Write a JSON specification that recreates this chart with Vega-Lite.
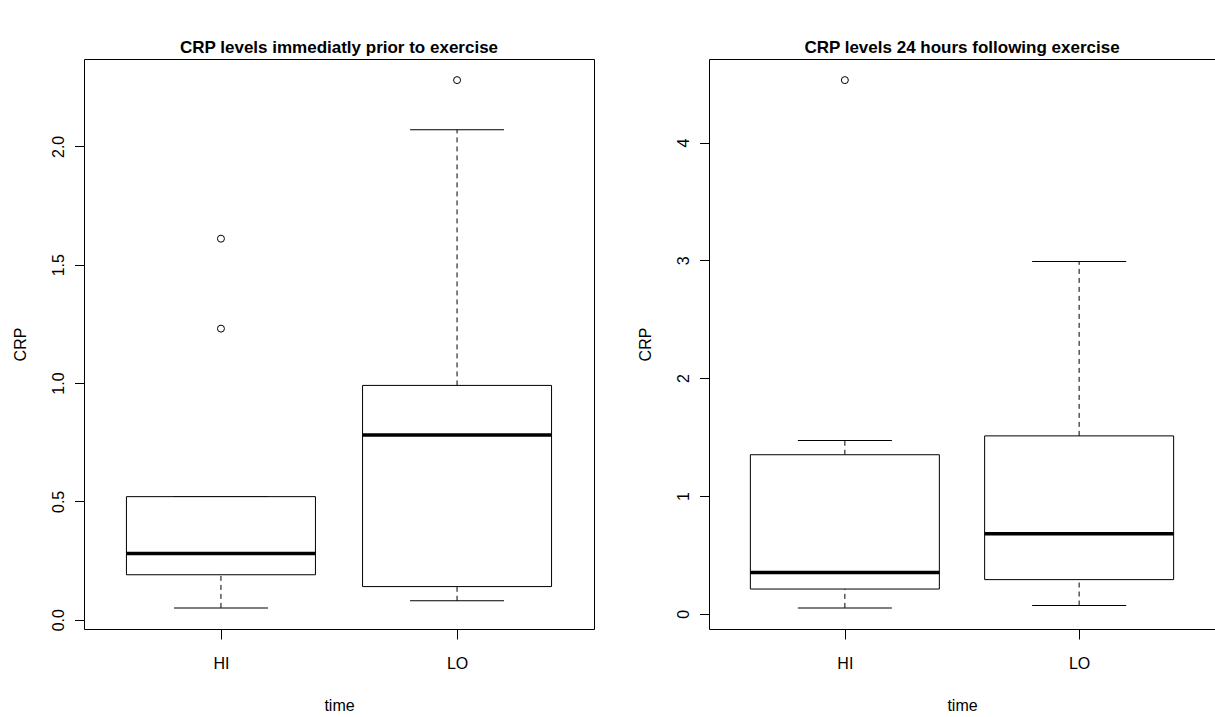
{
  "$schema": "https://vega.github.io/schema/vega-lite/v6.json",
  "background": "white",
  "padding": {"left": 11, "top": 38, "right": 0, "bottom": 0},
  "bounds": "flush",
  "spacing": 115,
  "datasets": {
    "pre_box": [
      {"time": "HI", "lower": 0.05, "q1": 0.19, "median": 0.28, "q3": 0.52, "upper": 0.52},
      {"time": "LO", "lower": 0.08, "q1": 0.14, "median": 0.78, "q3": 0.99, "upper": 2.07}
    ],
    "pre_out": [
      {"time": "HI", "CRP": 1.23},
      {"time": "HI", "CRP": 1.61},
      {"time": "LO", "CRP": 2.28}
    ],
    "post_box": [
      {"time": "HI", "lower": 0.05, "q1": 0.21, "median": 0.35, "q3": 1.35, "upper": 1.47},
      {"time": "LO", "lower": 0.07, "q1": 0.29, "median": 0.68, "q3": 1.51, "upper": 2.99}
    ],
    "post_out": [
      {"time": "HI", "CRP": 4.53}
    ]
  },
  "config": {
    "font": "Liberation Sans",
    "view": {"stroke": "black", "strokeWidth": 1},
    "axis": {
      "domain": false,
      "grid": false,
      "tickColor": "black",
      "labelColor": "black",
      "titleColor": "black",
      "labelFontSize": 16,
      "titleFontSize": 16,
      "titleFontWeight": "normal",
      "labelFont": "Liberation Sans",
      "titleFont": "Liberation Sans"
    },
    "axisX": {
      "tickSize": 10,
      "labelPadding": 29,
      "labelBaseline": "alphabetic",
      "labelAngle": 0,
      "titleY": 81,
      "titleBaseline": "alphabetic"
    },
    "axisY": {
      "tickSize": 9.5,
      "labelPadding": 11.5,
      "labelAngle": -90,
      "labelAlign": "center",
      "labelBaseline": "alphabetic",
      "titleAngle": -90,
      "titleX": -59,
      "titleY": 285,
      "titleAlign": "center",
      "titleBaseline": "alphabetic"
    },
    "title": {
      "fontSize": 17,
      "fontWeight": "bold",
      "font": "Liberation Sans",
      "color": "black",
      "anchor": "middle",
      "frame": "group",
      "baseline": "alphabetic",
      "offset": 2
    }
  },
  "hconcat": [
    {
      "title": "CRP levels immediatly prior to exercise",
      "width": 510,
      "height": 570,
      "encoding": {
        "x": {"field": "time", "type": "nominal", "title": "time", "scale": {"type": "point", "padding": 0.58}}
      },
      "layer": [
        {
          "data": {"name": "pre_box"},
          "mark": {"type": "rule", "color": "black", "strokeWidth": 1, "strokeDash": [5, 4]},
          "encoding": {
            "y": {"field": "lower", "type": "quantitative", "title": "CRP", "scale": {"domain": [-0.0392, 2.3692], "nice": false, "zero": false}, "axis": {"values": [0, 0.5, 1, 1.5, 2], "format": ".1f"}},
            "y2": {"field": "q1"}
          }
        },
        {
          "data": {"name": "pre_box"},
          "mark": {"type": "rule", "color": "black", "strokeWidth": 1, "strokeDash": [5, 4]},
          "encoding": {
            "y": {"field": "q3", "type": "quantitative"},
            "y2": {"field": "upper"}
          }
        },
        {
          "data": {"name": "pre_box"},
          "mark": {"type": "tick", "color": "black", "size": 94, "thickness": 1, "opacity": 1},
          "encoding": {"y": {"field": "lower", "type": "quantitative"}}
        },
        {
          "data": {"name": "pre_box"},
          "mark": {"type": "tick", "color": "black", "size": 94, "thickness": 1, "opacity": 1},
          "encoding": {"y": {"field": "upper", "type": "quantitative"}}
        },
        {
          "data": {"name": "pre_box"},
          "mark": {"type": "bar", "width": 189, "fill": "white", "stroke": "black", "strokeWidth": 1},
          "encoding": {
            "y": {"field": "q1", "type": "quantitative"},
            "y2": {"field": "q3"}
          }
        },
        {
          "data": {"name": "pre_box"},
          "mark": {"type": "tick", "color": "black", "size": 189, "thickness": 3.5, "opacity": 1},
          "encoding": {"y": {"field": "median", "type": "quantitative"}}
        },
        {
          "data": {"name": "pre_out"},
          "mark": {"type": "point", "shape": "circle", "filled": false, "stroke": "black", "strokeWidth": 1, "size": 49, "opacity": 1},
          "encoding": {"y": {"field": "CRP", "type": "quantitative"}}
        }
      ]
    },
    {
      "title": "CRP levels 24 hours following exercise",
      "width": 506,
      "height": 570,
      "encoding": {
        "x": {"field": "time", "type": "nominal", "title": "time", "scale": {"type": "point", "padding": 0.58}}
      },
      "layer": [
        {
          "data": {"name": "post_box"},
          "mark": {"type": "rule", "color": "black", "strokeWidth": 1, "strokeDash": [5, 4]},
          "encoding": {
            "y": {"field": "lower", "type": "quantitative", "title": "CRP", "scale": {"domain": [-0.1292, 4.7092], "nice": false, "zero": false}, "axis": {"values": [0, 1, 2, 3, 4], "format": "d"}},
            "y2": {"field": "q1"}
          }
        },
        {
          "data": {"name": "post_box"},
          "mark": {"type": "rule", "color": "black", "strokeWidth": 1, "strokeDash": [5, 4]},
          "encoding": {
            "y": {"field": "q3", "type": "quantitative"},
            "y2": {"field": "upper"}
          }
        },
        {
          "data": {"name": "post_box"},
          "mark": {"type": "tick", "color": "black", "size": 94, "thickness": 1, "opacity": 1},
          "encoding": {"y": {"field": "lower", "type": "quantitative"}}
        },
        {
          "data": {"name": "post_box"},
          "mark": {"type": "tick", "color": "black", "size": 94, "thickness": 1, "opacity": 1},
          "encoding": {"y": {"field": "upper", "type": "quantitative"}}
        },
        {
          "data": {"name": "post_box"},
          "mark": {"type": "bar", "width": 189, "fill": "white", "stroke": "black", "strokeWidth": 1},
          "encoding": {
            "y": {"field": "q1", "type": "quantitative"},
            "y2": {"field": "q3"}
          }
        },
        {
          "data": {"name": "post_box"},
          "mark": {"type": "tick", "color": "black", "size": 189, "thickness": 3.5, "opacity": 1},
          "encoding": {"y": {"field": "median", "type": "quantitative"}}
        },
        {
          "data": {"name": "post_out"},
          "mark": {"type": "point", "shape": "circle", "filled": false, "stroke": "black", "strokeWidth": 1, "size": 49, "opacity": 1},
          "encoding": {"y": {"field": "CRP", "type": "quantitative"}}
        }
      ]
    }
  ]
}
